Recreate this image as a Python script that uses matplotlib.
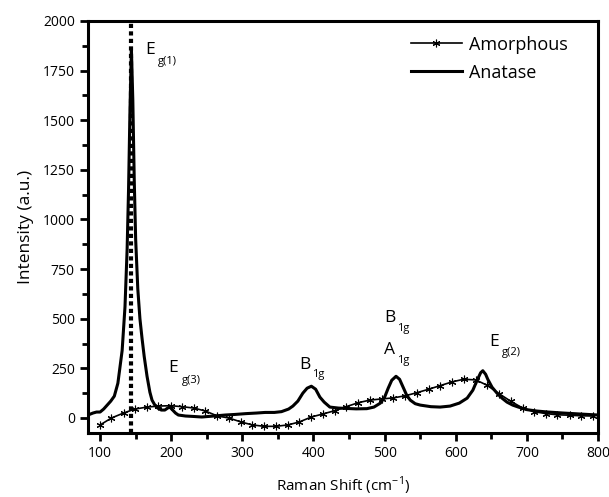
import matplotlib
matplotlib.use("Agg")
import matplotlib.pyplot as plt
from matplotlib.ticker import MultipleLocator

# Raman shift (cm^-1) and intensity
anatase_x = [83, 90, 95, 100, 105, 110, 115, 120, 125, 131, 135, 138, 140, 142, 144,
             146, 148, 150, 153, 156, 159, 162, 166, 170, 173, 177, 181, 186, 191, 195,
             198, 202, 206, 210, 220, 230, 243, 260, 276, 290, 305, 320, 332, 345, 355,
             365, 371, 378, 385, 391, 397, 403, 409, 415, 423, 435, 447, 460, 475, 485,
             494, 500, 505, 510, 516, 521, 526, 531, 536, 543, 550, 565, 578, 592, 605,
             616, 624, 630, 635, 638, 642, 645, 651, 658, 665, 672, 680, 688, 700, 714,
             730, 751, 775, 800]
anatase_y = [15, 25, 30, 30, 45, 65, 85, 110, 175, 340, 560, 850, 1150, 1550, 1860,
             1600, 1200, 900, 650, 500, 400, 310, 210, 130, 90, 65, 50, 40, 40, 50,
             55, 40, 25, 15, 10, 8, 5, 10, 15, 18, 22, 25, 28, 28, 32,
             45, 60, 85, 125, 150, 160, 145, 105, 80, 55, 50, 48, 46, 47, 55,
             75, 105, 150, 190, 210, 195, 155, 115, 90, 72, 65, 57, 55, 60, 75,
             100, 140, 190, 228, 238, 220, 195, 155, 125, 100, 80, 65, 55, 42, 35,
             30, 25, 20, 15]

amorphous_x = [100, 116, 133, 149, 166, 182, 199, 215, 232, 248, 265, 281, 298, 314,
               331, 347, 364, 380, 397, 413, 430, 446, 463, 479, 496, 512, 529, 545,
               562, 578, 595, 611, 628, 644, 661, 677, 694, 710, 727, 743, 760, 776, 793]
amorphous_y = [-35, 0, 25, 45, 55, 60, 62, 57, 50, 35, 10, 0, -20, -35,
               -42, -42, -35, -20, 5, 20, 37, 57, 77, 90, 96, 101, 112, 127,
               145, 163, 182, 195, 192, 165, 122, 85, 50, 32, 22, 16, 14, 11, 10]

eg1_position = 144

# peak labels: main letter, subscript
peak_labels = [("E", "g(1)"), ("E", "g(3)"), ("B", "1g"), ("B", "1g"), ("A", "1g"), ("E", "g(2)")]

plt.rcParams['font.family'] = ['Open Sans', 'DejaVu Sans']
plt.rcParams['mathtext.fontset'] = 'custom'
plt.rcParams['mathtext.rm'] = 'Open Sans'

fig = plt.figure(figsize=(6.09, 4.97), dpi=100)
ax = fig.add_axes([0.1445, 0.129, 0.8375, 0.829])

ax.plot(amorphous_x, amorphous_y, color='black', lw=1.2, marker=(6, 2, 0),
        markersize=5.5, markeredgewidth=0.8, label='Amorphous')
ax.plot(anatase_x, anatase_y, color='black', lw=2.2, label='Anatase')
ax.axvline(eg1_position, color='black', lw=3, linestyle=(0, (1, 0.8)))

ax.set_xlim(83, 800)
ax.set_ylim(-75, 2000)
ax.xaxis.set_major_locator(MultipleLocator(100))
ax.xaxis.set_minor_locator(MultipleLocator(50))
ax.yaxis.set_major_locator(MultipleLocator(250))
ax.yaxis.set_minor_locator(MultipleLocator(125))
ax.tick_params(which='major', direction='out', length=6, width=2, labelsize=10)
ax.tick_params(which='minor', direction='out', length=4, width=2)
for s in ax.spines.values():
    s.set_linewidth(2.2)

ax.set_xlabel(r'Raman Shift (cm$^{\mathregular{-1}}$)', fontsize=11, labelpad=10)
ax.set_ylabel('Intensity (a.u.)', fontsize=12.5, labelpad=6)

# label anchors (letter x, letter y, subscript x, subscript y)
label_pos = [(163, 1855, 181, 1795), (196, 252, 215, 190), (380, 267, 398, 217),
             (499, 504, 517, 449), (499, 343, 517, 292), (647, 383, 665, 328)]
for (main, sub), (mx, my, sx, sy) in zip(peak_labels, label_pos):
    ax.text(mx, my, main, fontsize=12.5, ha='left', va='center')
    ax.text(sx, sy, sub, fontsize=8, ha='left', va='center')

ax.legend(loc='upper right', bbox_to_anchor=(0.965, 0.995), frameon=False,
          fontsize=13, handlelength=2.8, handletextpad=0.4, labelspacing=0.55,
          borderaxespad=0.3)

fig.savefig('out.png', dpi=100)
